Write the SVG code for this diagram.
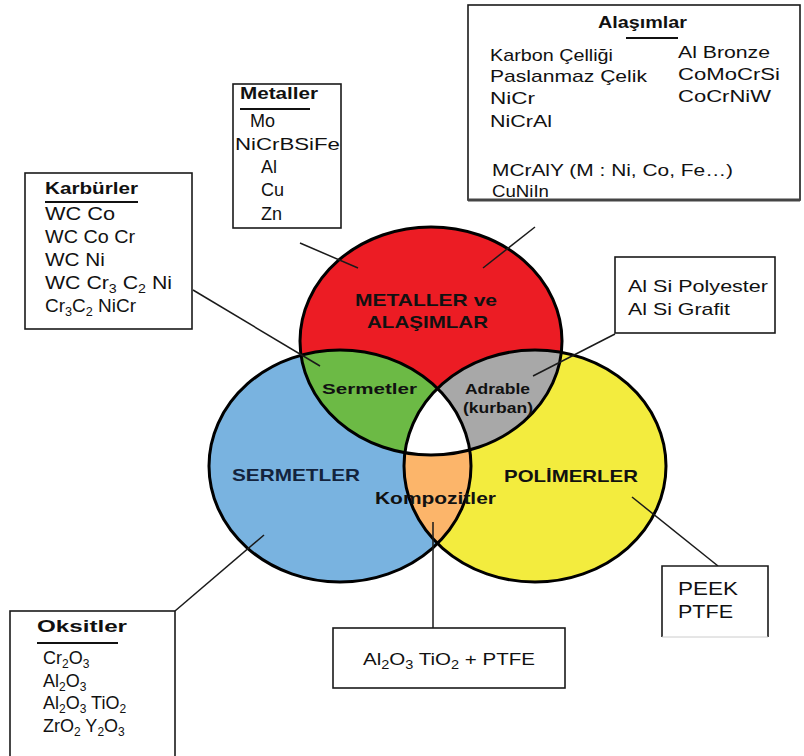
<svg xmlns="http://www.w3.org/2000/svg" width="804" height="756" viewBox="0 0 804 756">
<style>
text{font-family:"Liberation Sans",Arial,sans-serif;fill:#111}
.t{font-size:17px}
.k{font-size:18px}
.h{font-size:16px;font-weight:bold}
.c{font-size:17px;font-weight:bold}
.s{font-size:15px;font-weight:bold}
.sub{font-size:12px}
.box{fill:#fff;stroke:#1a1a1a;stroke-width:1.6}
.ln{stroke:#1a1a1a;stroke-width:1.5;fill:none}
.ul{stroke:#111;stroke-width:2.2}
.ring{fill:none;stroke:#000;stroke-width:3}
</style>
<defs>
<clipPath id="cRed"><ellipse cx="431" cy="341" rx="131" ry="114"/></clipPath>
<clipPath id="cBlue"><ellipse cx="340" cy="466" rx="131" ry="116"/></clipPath>
</defs>

<g id="venn">
<ellipse cx="340" cy="466" rx="131" ry="116" fill="#79B3E0"/>
<ellipse cx="535" cy="466" rx="131" ry="116" fill="#F3EC3E"/>
<ellipse cx="431" cy="341" rx="131" ry="114" fill="#EC1C24"/>
<ellipse cx="340" cy="466" rx="131" ry="116" fill="#6CBA45" clip-path="url(#cRed)"/>
<ellipse cx="535" cy="466" rx="131" ry="116" fill="#A8A8A8" clip-path="url(#cRed)"/>
<ellipse cx="535" cy="466" rx="131" ry="116" fill="#FCB56A" clip-path="url(#cBlue)"/>
<g clip-path="url(#cBlue)"><ellipse cx="535" cy="466" rx="131" ry="116" fill="#fff" clip-path="url(#cRed)"/></g>
<ellipse class="ring" cx="340" cy="466" rx="131" ry="116"/>
<ellipse class="ring" cx="535" cy="466" rx="131" ry="116"/>
<ellipse class="ring" cx="431" cy="341" rx="131" ry="114"/>
<text class="c" x="355" y="306" textLength="142" lengthAdjust="spacingAndGlyphs">METALLER ve</text>
<text class="c" x="367" y="328" textLength="121" lengthAdjust="spacingAndGlyphs">ALAŞIMLAR</text>
<text class="s" x="322" y="394" textLength="95" lengthAdjust="spacingAndGlyphs">Sermetler</text>
<text class="s" x="465" y="394" textLength="65" lengthAdjust="spacingAndGlyphs">Adrable</text>
<text class="s" x="463" y="413" textLength="70" lengthAdjust="spacingAndGlyphs">(kurban)</text>
<text class="c" x="232" y="481" textLength="128" lengthAdjust="spacingAndGlyphs" style="fill:#13233d">SERMETLER</text>
<text class="c" x="504" y="482" textLength="134" lengthAdjust="spacingAndGlyphs">POLİMERLER</text>
<text class="c" x="375" y="504" textLength="121" lengthAdjust="spacingAndGlyphs">Kompozitler</text>
</g>

<g id="connectors">
<line class="ln" x1="300" y1="243" x2="358" y2="268"/>
<line class="ln" x1="535" y1="227" x2="483" y2="268"/>
<line class="ln" x1="193" y1="290" x2="320" y2="366"/>
<line class="ln" x1="615" y1="334" x2="533" y2="376"/>
<line class="ln" x1="175" y1="611" x2="264" y2="535"/>
<line class="ln" x1="433" y1="522" x2="433" y2="628"/>
<line class="ln" x1="632" y1="497" x2="718" y2="566"/>
</g>

<g id="alasimlar">
<rect class="box" x="468" y="5" width="332" height="195"/>
<line x1="468" y1="200" x2="800" y2="200" stroke="#444" stroke-width="3"/>
<text class="h" x="598" y="28" textLength="89" lengthAdjust="spacingAndGlyphs">Alaşımlar</text>
<line class="ul" x1="626" y1="38" x2="678" y2="38"/>
<text class="t" x="490" y="61" textLength="123" lengthAdjust="spacingAndGlyphs">Karbon Çelliği</text>
<text class="t" x="490" y="82" textLength="157" lengthAdjust="spacingAndGlyphs">Paslanmaz Çelik</text>
<text class="t" x="490" y="104" textLength="45" lengthAdjust="spacingAndGlyphs">NiCr</text>
<text class="t" x="490" y="127" textLength="62" lengthAdjust="spacingAndGlyphs">NiCrAl</text>
<text class="t" x="492" y="176" textLength="241" lengthAdjust="spacingAndGlyphs">MCrAlY (M : Ni, Co, Fe…)</text>
<text class="t" x="492" y="197" textLength="57" lengthAdjust="spacingAndGlyphs">CuNiIn</text>
<text class="t" x="678" y="58" textLength="92" lengthAdjust="spacingAndGlyphs">Al Bronze</text>
<text class="t" x="678" y="80" textLength="102" lengthAdjust="spacingAndGlyphs">CoMoCrSi</text>
<text class="t" x="678" y="102" textLength="93" lengthAdjust="spacingAndGlyphs">CoCrNiW</text>
</g>

<g id="metaller">
<rect class="box" x="233" y="84" width="108" height="144"/>
<text class="h" x="240" y="99" textLength="78" lengthAdjust="spacingAndGlyphs">Metaller</text>
<line class="ul" x1="240" y1="109" x2="310" y2="109"/>
<text class="k" x="250" y="127">Mo</text>
<text class="t" x="235" y="150" textLength="105" lengthAdjust="spacingAndGlyphs">NiCrBSiFe</text>
<text class="k" x="261" y="173">Al</text>
<text class="k" x="261" y="196">Cu</text>
<text class="k" x="261" y="220">Zn</text>
</g>

<g id="karburler">
<rect class="box" x="25" y="173" width="167" height="156"/>
<text class="h" x="45" y="194" textLength="93" lengthAdjust="spacingAndGlyphs">Karbürler</text>
<line class="ul" x1="45" y1="202" x2="138" y2="202"/>
<text class="k" x="45" y="220" textLength="70" lengthAdjust="spacingAndGlyphs">WC Co</text>
<text class="k" x="45" y="243" textLength="90" lengthAdjust="spacingAndGlyphs">WC Co Cr</text>
<text class="k" x="45" y="266" textLength="60" lengthAdjust="spacingAndGlyphs">WC Ni</text>
<text class="k" x="45" y="289" textLength="127" lengthAdjust="spacingAndGlyphs">WC Cr<tspan class="sub" dy="4">3</tspan><tspan dy="-4"> C</tspan><tspan class="sub" dy="4">2</tspan><tspan dy="-4"> Ni</tspan></text>
<text class="k" x="45" y="312" textLength="91" lengthAdjust="spacingAndGlyphs">Cr<tspan class="sub" dy="4">3</tspan><tspan dy="-4">C</tspan><tspan class="sub" dy="4">2</tspan><tspan dy="-4"> NiCr</tspan></text>
</g>

<g id="alsi">
<rect class="box" x="615" y="257" width="160" height="76"/>
<text class="t" x="628" y="292" textLength="140" lengthAdjust="spacingAndGlyphs">Al Si  Polyester</text>
<text class="t" x="628" y="315" textLength="102" lengthAdjust="spacingAndGlyphs">Al Si  Grafit</text>
</g>

<g id="oksitler">
<rect class="box" x="10" y="611" width="165" height="160"/>
<text class="h" x="37" y="632" textLength="90" lengthAdjust="spacingAndGlyphs">Oksitler</text>
<line class="ul" x1="37" y1="643" x2="118" y2="643"/>
<text class="k" x="43" y="664">Cr<tspan class="sub" dy="4">2</tspan><tspan dy="-4">O</tspan><tspan class="sub" dy="4">3</tspan></text>
<text class="k" x="43" y="687">Al<tspan class="sub" dy="4">2</tspan><tspan dy="-4">O</tspan><tspan class="sub" dy="4">3</tspan></text>
<text class="k" x="43" y="709">Al<tspan class="sub" dy="4">2</tspan><tspan dy="-4">O</tspan><tspan class="sub" dy="4">3</tspan><tspan dy="-4"> TiO</tspan><tspan class="sub" dy="4">2</tspan></text>
<text class="k" x="43" y="732">ZrO<tspan class="sub" dy="4">2</tspan><tspan dy="-4">  Y</tspan><tspan class="sub" dy="4">2</tspan><tspan dy="-4">O</tspan><tspan class="sub" dy="4">3</tspan></text>
</g>

<g id="kompozit">
<rect class="box" x="333" y="628" width="232" height="60"/>
<text class="t" x="363" y="665" textLength="172" lengthAdjust="spacingAndGlyphs">Al<tspan class="sub" dy="4">2</tspan><tspan dy="-4">O</tspan><tspan class="sub" dy="4">3</tspan><tspan dy="-4"> TiO</tspan><tspan class="sub" dy="4">2</tspan><tspan dy="-4"> + PTFE</tspan></text>
</g>

<g id="peek">
<path d="M662,637 V566 H768 V637" fill="#fff" stroke="#1a1a1a" stroke-width="1.6"/>
<line x1="662" y1="637" x2="768" y2="637" stroke="#ccc" stroke-width="1"/>
<text class="k" x="678" y="595" textLength="60" lengthAdjust="spacingAndGlyphs">PEEK</text>
<text class="k" x="678" y="618" textLength="55" lengthAdjust="spacingAndGlyphs">PTFE</text>
</g>
</svg>
